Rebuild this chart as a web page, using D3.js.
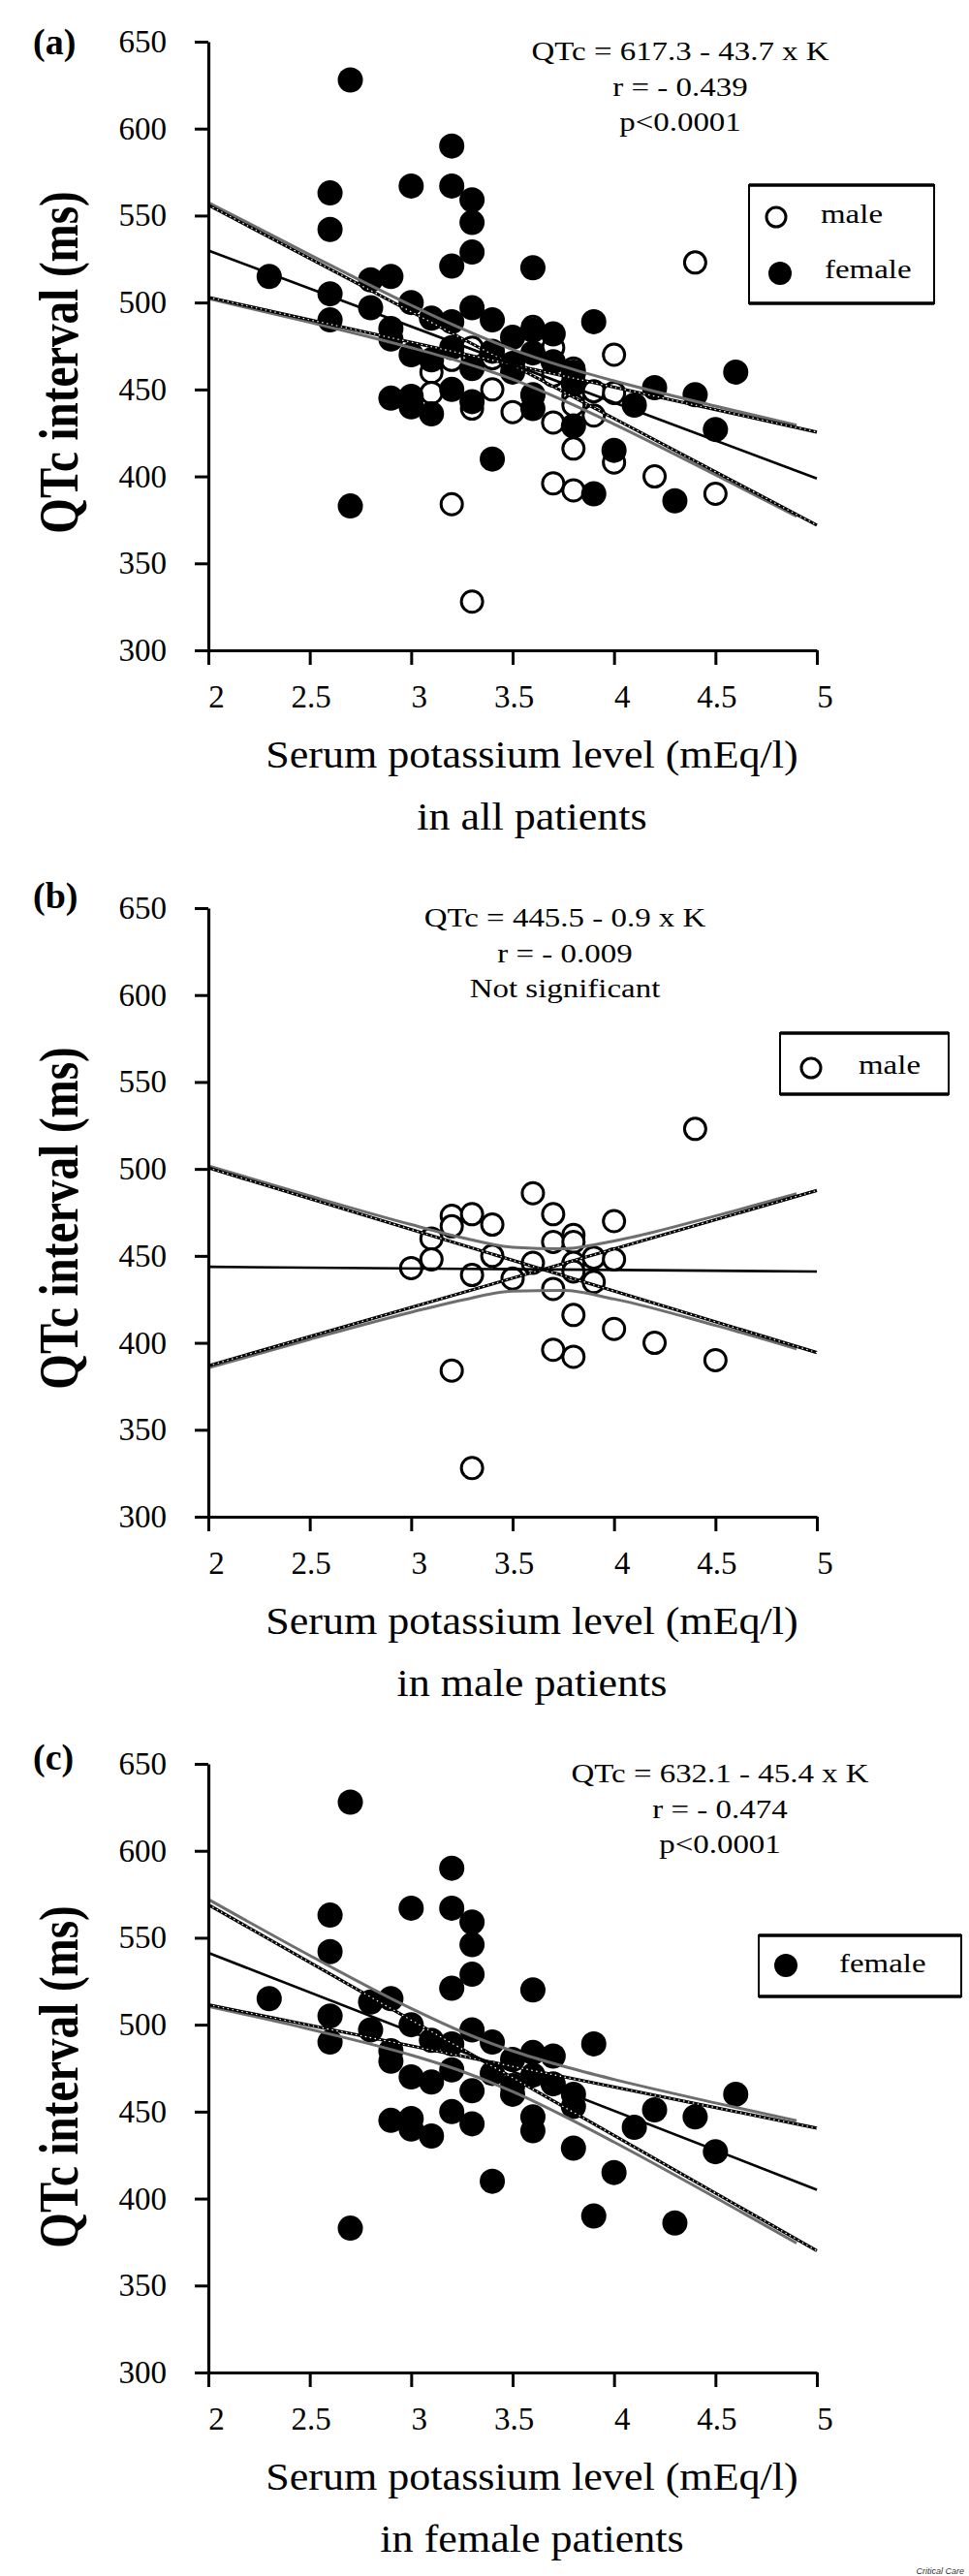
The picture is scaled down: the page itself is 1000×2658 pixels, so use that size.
<!DOCTYPE html>
<html><head><meta charset="utf-8">
<script src="https://cdn.jsdelivr.net/npm/d3@7"></script>
<style>
html,body{margin:0;padding:0;background:#fff;}
svg{display:block;}
</style>
</head><body>
<svg id="chart" width="1000" height="2658"></svg>
<script>
// ---------- data ----------
const xTicks = [2, 2.5, 3, 3.5, 4, 4.5, 5];
const yTicks = [300, 350, 400, 450, 500, 550, 600, 650];

const maleK   = [3.0, 3.1, 3.1, 3.2, 3.2, 3.2, 3.3, 3.3, 3.3, 3.4, 3.4, 3.5, 3.6, 3.6, 3.7, 3.7, 3.7, 3.7, 3.8, 3.8, 3.8, 3.8, 3.8, 3.8, 3.9, 3.9, 4.0, 4.0, 4.0, 4.2, 4.4, 4.5];
const maleQTc = [443, 460, 448, 473, 467, 384, 474, 439, 328, 468, 450, 437, 486, 446, 474, 458, 431, 396, 462, 458, 446, 441, 416, 392, 449, 435, 470, 448, 408, 400, 523, 390];

const femaleK   = [2.3, 2.6, 2.6, 2.6, 2.6, 2.7, 2.7, 2.8, 2.8, 2.9, 2.9, 2.9, 2.9, 3.0, 3.0, 3.0, 3.0, 3.0, 3.1, 3.1, 3.1, 3.2, 3.2, 3.2, 3.2, 3.2, 3.2, 3.3, 3.3, 3.3, 3.3, 3.3, 3.3, 3.4, 3.4, 3.4, 3.5, 3.5, 3.5, 3.6, 3.6, 3.6, 3.6, 3.6, 3.7, 3.7, 3.8, 3.8, 3.8, 3.9, 3.9, 4.0, 4.1, 4.2, 4.3, 4.4, 4.5, 4.6];
const femaleQTc = [515, 563, 542, 505, 490, 628, 383, 513, 497, 515, 485, 479, 445, 567, 500, 470, 446, 440, 491, 467, 436, 590, 567, 521, 489, 474, 450, 559, 546, 529, 497, 462, 443, 490, 472, 410, 480, 465, 460, 520, 484, 471, 447, 439, 482, 466, 460, 453, 429, 489, 390, 415, 441, 451, 386, 447, 427, 460];

// regression lines (values at K = 2 and K = 5)
const lineK = [2, 5];
const fitAll    = [529.9, 398.8];
const fitMale   = [443.7, 441.0];
const fitFemale = [541.3, 405.1];
// slope confidence lines (values at K = 2 and K = 5)
const slopeAllA    = [556.0, 372.0];
const slopeAllB    = [503.0, 425.5];
const slopeMaleA   = [500.6, 394.4];
const slopeMaleB   = [386.8, 487.6];
const slopeFemaleA = [569.0, 370.0];
const slopeFemaleB = [511.5, 440.5];
// 95% confidence bands
const bandK = [2, 2.5, 3, 3.25, 3.5, 3.75, 4, 4.5, 4.9];
const bandAllUpper    = [557.5, 527.5, 498.4, 484.9, 473.0, 463.2, 454.9, 440.4, 429.4];
const bandAllLower    = [502.3, 488.6, 474.0, 465.7, 455.8, 443.7, 430.1, 400.9, 377.0];
const bandMaleUpper   = [501.8, 484.5, 468.0, 460.5, 455.0, 454.1, 458.6, 473.0, 485.7];
const bandMaleLower   = [385.6, 402.0, 417.6, 424.6, 429.7, 430.1, 425.2, 410.0, 396.5];
const bandFemaleUpper = [572.1, 539.8, 509.3, 495.9, 484.9, 476.1, 468.5, 455.0, 444.8];
const bandFemaleLower = [510.5, 497.4, 482.5, 473.2, 461.5, 447.6, 432.5, 400.6, 374.4];

const eqAll    = ["QTc = 617.3 - 43.7 x K", "r = - 0.439", "p<0.0001"];
const eqMale   = ["QTc = 445.5 - 0.9 x K", "r = - 0.009", "Not significant"];
const eqFemale = ["QTc = 632.1 - 45.4 x K", "r = - 0.474", "p<0.0001"];

// ---------- drawing ----------
const SERIF = "'Liberation Serif','Times New Roman',Times,serif";
const svg = d3.select("#chart");
const X0 = 215, X1 = 843, PH = 628;

const panels = [
  { label: "(a)", bottom: 671, labelY: 56, titleY: 374, eqX: 702, eq: eqAll, sub: "in all patients",
    series: [{k: maleK, q: maleQTc, filled: false}, {k: femaleK, q: femaleQTc, filled: true}],
    fit: fitAll, sa: slopeAllA, sb: slopeAllB, up: bandAllUpper, lo: bandAllLower,
    legend: {x: 773, y: 191, w: 191, h: 122,
      items: [{name: "male", filled: false, mx: 28, tx: 74, my: 33, ty: 39},
              {name: "female", filled: true, mx: 32, tx: 78, my: 91, ty: 96}]} },
  { label: "(b)", bottom: 1565, labelY: 937, titleY: 1257, eqX: 583, eq: eqMale, sub: "in male patients",
    series: [{k: maleK, q: maleQTc, filled: false}],
    fit: fitMale, sa: slopeMaleA, sb: slopeMaleB, up: bandMaleUpper, lo: bandMaleLower,
    legend: {x: 805, y: 1066, w: 174, h: 63,
      items: [{name: "male", filled: false, mx: 32, tx: 81, my: 36, ty: 42}]} },
  { label: "(c)", bottom: 2448, labelY: 1826, titleY: 2143, eqX: 743, eq: eqFemale, sub: "in female patients",
    series: [{k: femaleK, q: femaleQTc, filled: true}],
    fit: fitFemale, sa: slopeFemaleA, sb: slopeFemaleB, up: bandFemaleUpper, lo: bandFemaleLower,
    legend: {x: 783, y: 1997, w: 209, h: 63,
      items: [{name: "female", filled: true, mx: 28, tx: 83, my: 31, ty: 38}]} }
];

panels.forEach(p => {
  const g = svg.append("g");
  const x = d3.scaleLinear().domain([2, 5]).range([X0, X1]);
  const y = d3.scaleLinear().domain([300, 650]).range([p.bottom, p.bottom - PH]);

  // points
  p.series.forEach(s => {
    g.append("g").selectAll("circle").data(d3.range(s.k.length)).join("circle")
      .attr("cx", i => x(s.k[i])).attr("cy", i => y(s.q[i]))
      .attr("r", s.filled ? 13 : 11)
      .attr("fill", s.filled ? "#000" : "#fff")
      .attr("stroke", "#000").attr("stroke-width", s.filled ? 0 : 3);
  });

  // confidence bands (grey)
  const band = d3.line().x((d, i) => x(bandK[i])).y(d => y(d)).curve(d3.curveMonotoneX);
  [p.up, p.lo].forEach(arr => {
    g.append("path").attr("d", band(arr)).attr("fill", "none")
      .attr("stroke", "#6e6e6e").attr("stroke-width", 3);
  });

  // slope confidence lines (black with white dots)
  const seg = d3.line().x((d, i) => x(lineK[i])).y(d => y(d));
  [p.sa, p.sb].forEach(arr => {
    g.append("path").attr("d", seg(arr)).attr("fill", "none")
      .attr("stroke", "#000").attr("stroke-width", 3.2);
    g.append("path").attr("d", seg(arr)).attr("fill", "none")
      .attr("stroke", "#fff").attr("stroke-width", 1.2).attr("stroke-dasharray", "1.5 3.5");
  });

  // regression line
  g.append("path").attr("d", seg(p.fit)).attr("fill", "none")
    .attr("stroke", "#000").attr("stroke-width", 2.6);

  // axes
  const yAxis = d3.axisLeft(y).tickValues(yTicks).tickSize(14).tickSizeOuter(0)
    .tickPadding(29).tickFormat(d3.format("d"));
  const ya = g.append("g").attr("transform", `translate(${X0},0)`).call(yAxis);
  const xAxis = d3.axisBottom(x).tickValues(xTicks).tickSize(15).tickSizeOuter(0)
    .tickFormat(d => String(d));
  const xa = g.append("g").attr("transform", `translate(0,${p.bottom})`).call(xAxis);
  [ya, xa].forEach(a => {
    a.select(".domain").attr("stroke-width", 3.2);
    a.selectAll(".tick line").attr("stroke-width", 3);
    a.selectAll("text").attr("font-family", SERIF).attr("font-size", 33).attr("fill", "#000");
  });
  xa.selectAll("text").attr("y", 59).attr("dy", 0)
    .attr("dx", d => Number.isInteger(d) ? 8 : 1);

  // panel label
  g.append("text").attr("x", 34).attr("y", p.labelY).text(p.label)
    .attr("font-family", SERIF).attr("font-weight", "bold").attr("font-size", 38);

  // y title
  g.append("text")
    .attr("transform", `translate(80,${p.titleY}) rotate(-90) scale(1,1.2)`)
    .attr("text-anchor", "middle").attr("font-family", SERIF).attr("font-weight", "bold")
    .attr("font-size", 47).text("QTc interval (ms)");

  // x title
  const top = p.bottom - PH;
  g.append("text")
    .attr("transform", `translate(549,${p.bottom + 121}) scale(1.13,1)`)
    .attr("text-anchor", "middle").attr("font-family", SERIF).attr("font-size", 39)
    .text("Serum potassium level (mEq/l)");
  g.append("text")
    .attr("transform", `translate(549,${p.bottom + 185}) scale(1.13,1)`)
    .attr("text-anchor", "middle").attr("font-family", SERIF).attr("font-size", 39)
    .text(p.sub);

  // equation text
  p.eq.forEach((t, i) => {
    g.append("text")
      .attr("transform", `translate(${p.eqX},${top + 19 + i * 36.5}) scale(1.22,1)`)
      .attr("text-anchor", "middle").attr("font-family", SERIF).attr("font-size", 27)
      .text(t);
  });

  // legend
  const L = p.legend;
  const lg = g.append("g").attr("transform", `translate(${L.x},${L.y})`);
  lg.append("rect").attr("width", L.w).attr("height", L.h)
    .attr("fill", "none").attr("stroke", "#000").attr("stroke-width", 2);
  lg.append("line").attr("x1", 0).attr("x2", L.w).attr("y1", 0).attr("y2", 0)
    .attr("stroke", "#000").attr("stroke-width", 3.5);
  lg.append("line").attr("x1", 0).attr("x2", L.w).attr("y1", L.h).attr("y2", L.h)
    .attr("stroke", "#000").attr("stroke-width", 3.5);
  L.items.forEach(it => {
    lg.append("circle").attr("cx", it.mx).attr("cy", it.my)
      .attr("r", it.filled ? 12 : 10)
      .attr("fill", it.filled ? "#000" : "#fff")
      .attr("stroke", "#000").attr("stroke-width", it.filled ? 0 : 3);
    lg.append("text").attr("transform", `translate(${it.tx},${it.ty}) scale(1.22,1)`)
      .attr("font-family", SERIF).attr("font-size", 27).text(it.name);
  });
});

// footer
svg.append("text").attr("x", 995).attr("y", 2656).attr("text-anchor", "end")
  .attr("font-family", "'Liberation Sans',Arial,sans-serif").attr("font-style", "italic")
  .attr("font-size", 9).attr("fill", "#333").text("Critical Care");
</script>
</body></html>
